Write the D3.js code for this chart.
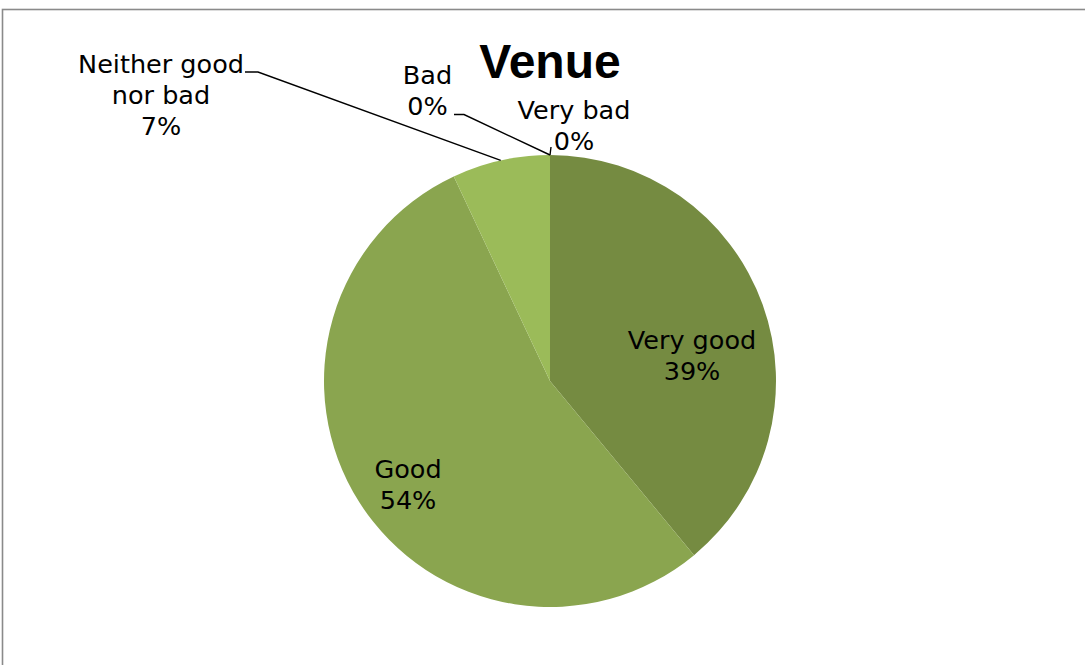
<!DOCTYPE html>
<html>
<head>
<meta charset="utf-8">
<script src="https://cdn.jsdelivr.net/npm/d3@7"></script>
<style>
  html, body { margin: 0; padding: 0; background: #fff; }
  svg { display: block; }
</style>
</head>
<body>
<svg id="chart" width="1085" height="665"></svg>
<script>
// Survey answers for the venue question
const categories = ["Very good", "Good", "Neither good nor bad", "Bad", "Very bad"];
const values = [39, 54, 7, 0, 0];          // percent of responses
const labelLines = [
  ["Very good"],
  ["Good"],
  ["Neither good", "nor bad"],
  ["Bad"],
  ["Very bad"]
];
const colors = ["#758b41", "#8aa54f", "#9bbb59", "#9bbb59", "#9bbb59"];

const W = 1085, H = 665;
const cx = 550, cy = 381, R = 226;
const lineH = 31;

// label anchors relative to the pie centre (x centre, first baseline)
const labelLayout = [
  { dx: 142,   dy: -32 },
  { dx: -142,  dy: 97 },
  { dx: -389,  dy: -308,   leader: [[-305, -309], [-292, -309]] },
  { dx: -122.5, dy: -297.5, leader: [[-96, -266.5], [-86, -266.5]] },
  { dx: 24,    dy: -262.5, leader: [[1, -234]] }
];

const svg = d3.select("#chart");

// chart area frame
svg.append("rect")
  .attr("x", 2.5).attr("y", 9.5)
  .attr("width", W + 20).attr("height", H + 20)
  .attr("fill", "#fff")
  .attr("stroke", "#8a8a8a")
  .attr("stroke-width", 1.6);

svg.append("text")
  .attr("x", 550).attr("y", 78)
  .attr("text-anchor", "middle")
  .attr("font-family", "Liberation Sans, Arial, sans-serif")
  .attr("font-weight", "bold")
  .attr("font-size", 48)
  .attr("fill", "#000")
  .text("Venue");

const pie = d3.pie().sort(null).value(d => d)(values);
const arc = d3.arc().innerRadius(0).outerRadius(R);

const g = svg.append("g").attr("transform", `translate(${cx},${cy})`);

g.selectAll("path.slice")
  .data(pie)
  .join("path")
  .attr("class", "slice")
  .attr("d", arc)
  .attr("fill", (d, i) => colors[i]);

// leader lines from the outside labels to each slice's outer edge
pie.forEach((d, i) => {
  const lay = labelLayout[i];
  if (!lay.leader) return;
  const mid = (d.startAngle + d.endAngle) / 2;
  const end = [R * Math.sin(mid), -R * Math.cos(mid)];
  g.append("path")
    .attr("d", d3.line()([...lay.leader, end]))
    .attr("fill", "none")
    .attr("stroke", "#000")
    .attr("stroke-width", 1.4);
});

// data labels: category name and percentage
pie.forEach((d, i) => {
  const lay = labelLayout[i];
  const lines = [...labelLines[i], d3.format(".0f")(values[i]) + "%"];
  const t = g.append("text")
    .attr("text-anchor", "middle")
    .attr("font-family", "DejaVu Sans, Verdana, sans-serif")
    .attr("font-size", 25.5)
    .attr("fill", "#000");
  lines.forEach((ln, k) => {
    t.append("tspan")
      .attr("x", lay.dx)
      .attr("y", lay.dy + k * lineH)
      .text(ln);
  });
});
</script>
</body>
</html>
